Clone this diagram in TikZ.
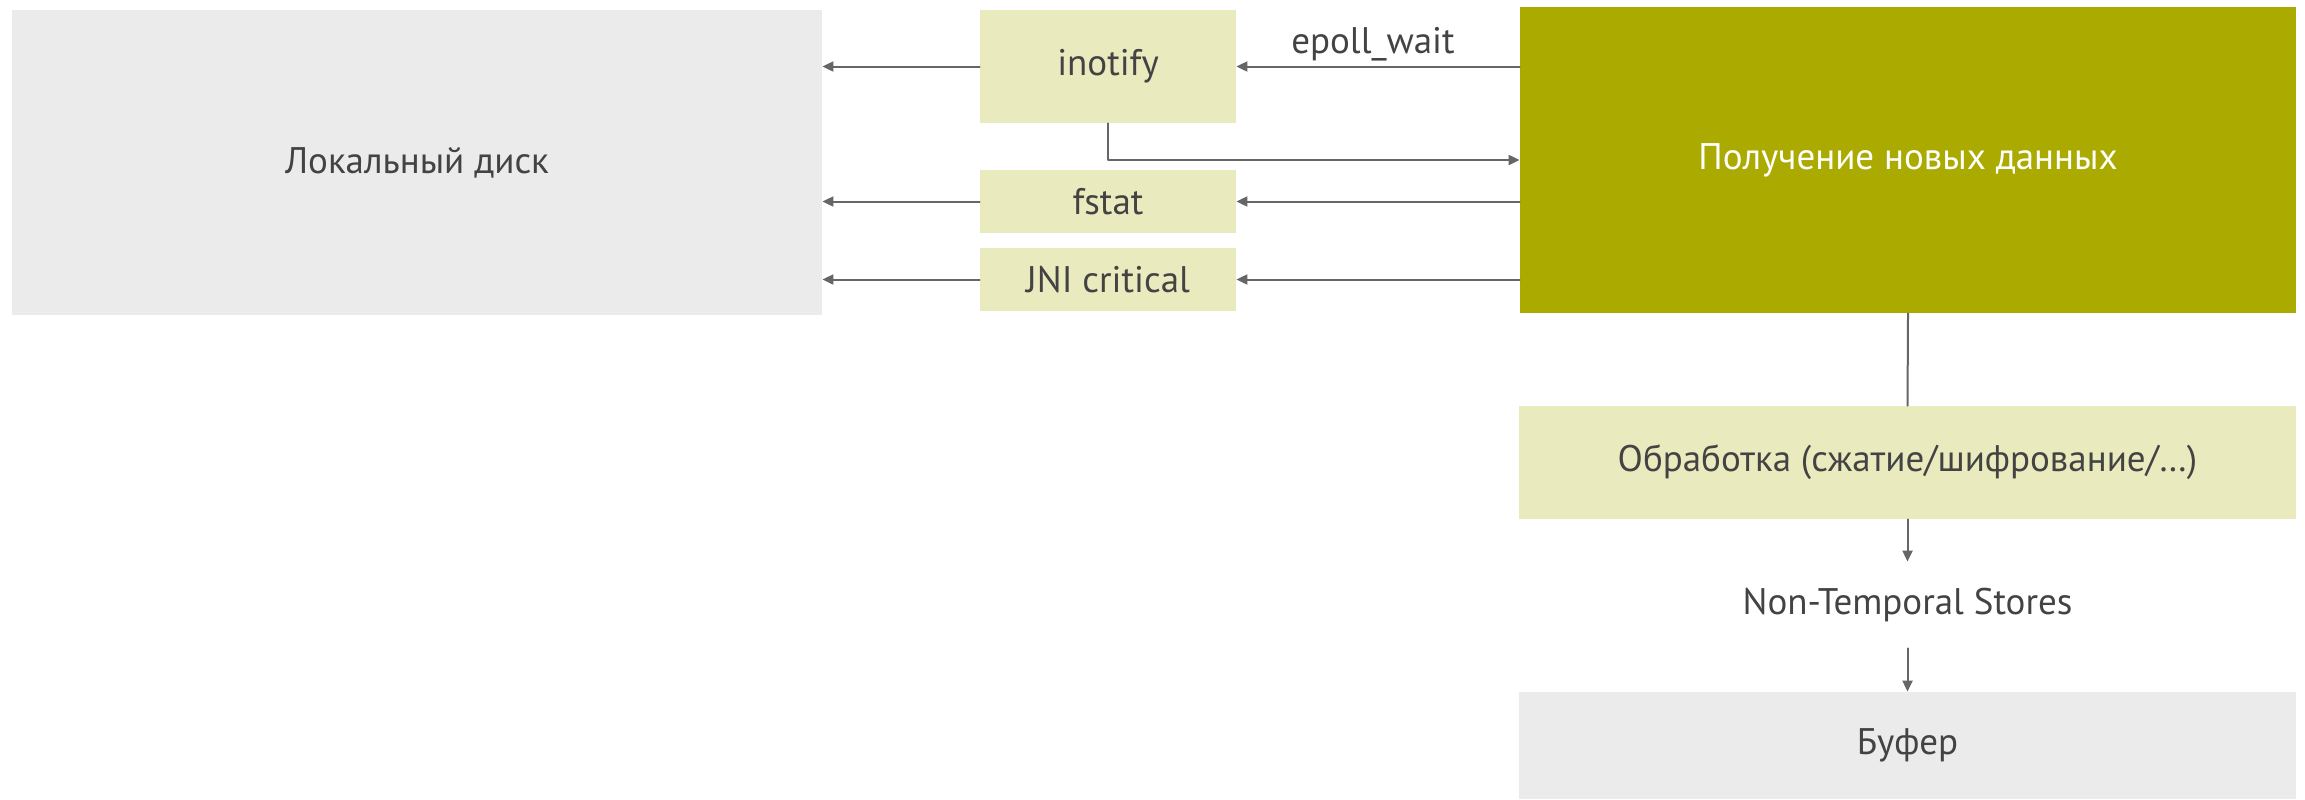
\documentclass[tikz,border=0pt]{standalone}
\usepackage{fontspec}
\setmainfont{PT Sans}
\usetikzlibrary{arrows.meta}

\definecolor{txtgrey}{HTML}{434343}
\definecolor{lnkgrey}{HTML}{666666}
\definecolor{diskgrey}{HTML}{EBEBEB}
\definecolor{callyel}{HTML}{EAEABF}
\definecolor{olive}{HTML}{AAAA00}

\begin{document}
\begin{tikzpicture}[x=0.5pt, y=-0.5pt, line cap=round, line join=round,
    box/.style={inner sep=0pt, text=txtgrey, font=\fontsize{18.5}{22}\selectfont},
    lnk/.style={line width=1pt, draw=lnkgrey},
    arr/.style={lnk, -{Triangle[length=5.5pt,width=5pt]}}]
  \useasboundingbox (0,0) rectangle (2305,799);
  % Left side: the disk and the three calls.
  \node[box, fill=diskgrey, minimum width=405pt, minimum height=152.5pt] (disk) at (417,162.5) {Локальный диск};
  \node[box, fill=callyel, minimum width=128pt, minimum height=56.5pt] (inotify) at (1108,66.5) {inotify};
  \node[box, fill=callyel, minimum width=128pt, minimum height=31.5pt] (fstat) at (1108,201.5) {fstat};
  \node[box, fill=callyel, minimum width=128pt, minimum height=31.5pt] (jni) at (1108,279.5) {JNI critical};
  % Right column.
  \node[box, fill=olive, text=white, minimum width=388pt, minimum height=153pt] (recv) at (1908,160) {Получение новых данных};
  \node[box, fill=callyel, minimum width=388.5pt, minimum height=56.5pt] (proc) at (1907.5,462.5) {Обработка (сжатие/шифрование/\dots)};
  \node[box, minimum height=43pt] (nts) at (1907.5,605) {Non-Temporal Stores};
  \node[box, fill=diskgrey, minimum width=388.5pt, minimum height=53.5pt] (buf) at (1907.5,745.5) {Буфер};
  \node[box] (epoll) at (1373,44) {epoll\_wait};
  % Calls from the reader.
  \draw[arr] (recv.west |- inotify.east) -- (inotify.east);
  \draw[arr] (inotify.south) |- (recv.west);
  \draw[arr] (recv.west |- fstat.east) -- (fstat.east);
  \draw[arr] (recv.west |- jni.east) -- (jni.east);
  % Calls into the disk.
  \draw[arr] (inotify.west) -- (disk.east |- inotify.west);
  \draw[arr] (fstat.west) -- (disk.east |- fstat.west);
  \draw[arr] (jni.west) -- (disk.east |- jni.west);
  % Down to the buffer.
  \draw[lnk] (recv.south) -- (proc.north);
  \draw[arr] (proc.south) -- (nts.north);
  \draw[arr] (nts.south) -- (buf.north);
\end{tikzpicture}
\end{document}
